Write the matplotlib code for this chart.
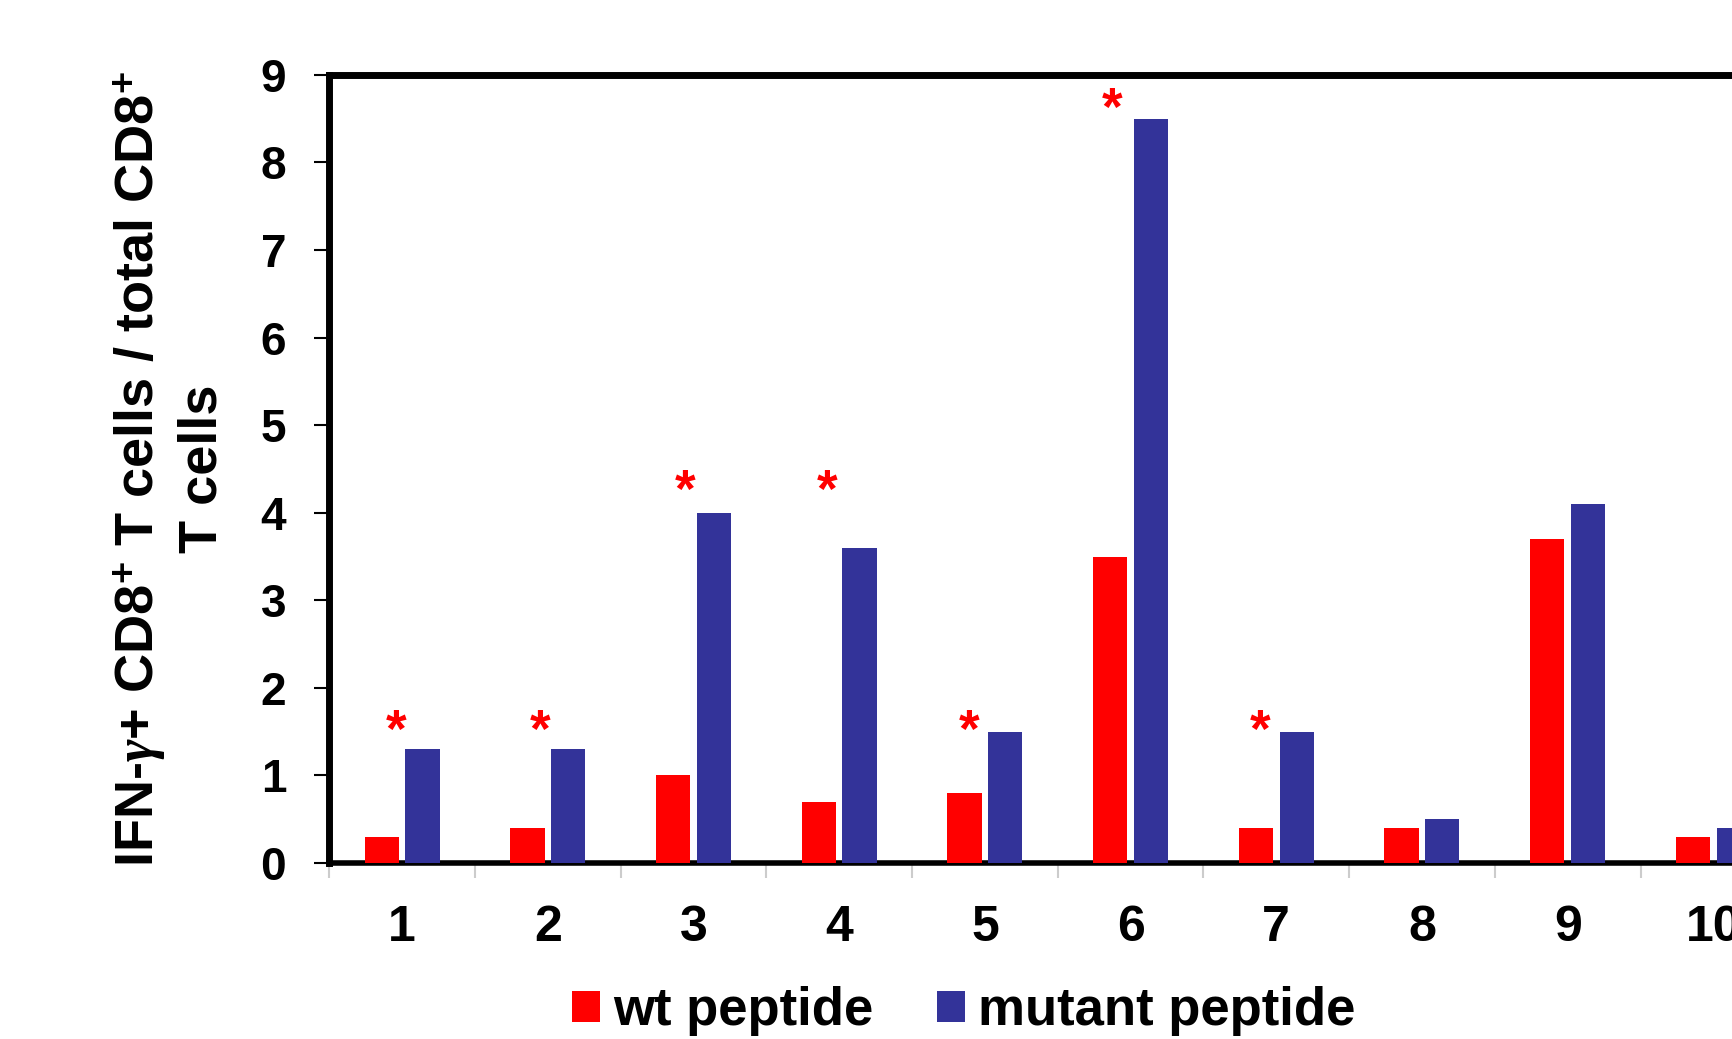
import matplotlib
matplotlib.use("Agg")
import matplotlib.pyplot as plt
import numpy as np

categories = ["1", "2", "3", "4", "5", "6", "7", "8", "9", "10"]
wt_values = [0.3, 0.4, 1.0, 0.7, 0.8, 3.5, 0.4, 0.4, 3.7, 0.3]
mutant_values = [1.3, 1.3, 4.0, 3.6, 1.5, 8.5, 1.5, 0.5, 4.1, 0.4]
series_names = ["wt peptide", "mutant peptide"]
y_ticks = [0, 1, 2, 3, 4, 5, 6, 7, 8, 9]
# significance asterisks: category position and height (centre of glyph)
star_x = [0.96, 1.95, 2.94, 3.92, 4.89, 5.87, 6.89]
star_y = [1.66, 1.66, 4.40, 4.40, 1.66, 8.76, 1.66]

RED = "#FF0000"
BLUE = "#333399"

plt.rcParams["font.family"] = ["Liberation Sans", "DejaVu Sans"]
plt.rcParams["font.weight"] = "bold"
plt.rcParams["mathtext.fontset"] = "custom"
plt.rcParams["mathtext.rm"] = "Liberation Sans:bold"
plt.rcParams["mathtext.bf"] = "Liberation Sans:bold"
plt.rcParams["mathtext.it"] = "Liberation Serif:italic"

fig = plt.figure(figsize=(17.33, 10.39), dpi=100)
ax = fig.add_axes([0.19, 0.1694, 0.8407, 0.7585])

x = np.arange(1, len(categories) + 1)
w = 0.235
off = 0.14
ax.bar(x - off, wt_values, width=w, color=RED, label=series_names[0], zorder=3)
ax.bar(x + off, mutant_values, width=w, color=BLUE, label=series_names[1], zorder=3)

for sx, sy in zip(star_x, star_y):
    ax.text(sx, sy - 0.33, "*", color=RED, fontsize=38, fontweight="bold",
            ha="center", va="baseline", zorder=4)

ax.set_xlim(0.5, len(categories) + 0.5)
ax.set_ylim(0, 9)
ax.set_yticks(y_ticks)
ax.set_yticklabels([str(t) for t in y_ticks], fontsize=33, fontweight="bold")
ax.set_xticks(x)
ax.set_xticklabels(categories, fontsize=36, fontweight="bold")
ax.set_xticks(np.arange(0.5, len(categories) + 1.5, 1), minor=True)
ax.tick_params(axis="x", which="major", length=0, pad=30)
ax.tick_params(axis="x", which="minor", length=11, width=1.5, color="#cccccc", direction="out")
ax.tick_params(axis="y", which="major", length=11, width=1.5, color="black", direction="out", pad=20)

ax.spines["left"].set_linewidth(5)
ax.spines["top"].set_linewidth(5)
ax.spines["bottom"].set_linewidth(4)
ax.spines["right"].set_linewidth(5)
for s in ax.spines.values():
    s.set_color("black")

ax.set_ylabel("IFN-$\\gamma$+ CD8$^{+}$ T cells / total CD8$^{+}$\nT cells",
              fontsize=39, fontweight="bold", labelpad=20, linespacing=1.2)
ax.yaxis.set_label_coords(-0.07, 0.5)

leg = fig.legend(loc="center", bbox_to_anchor=(0.556, 0.027), ncol=2, frameon=False,
                 prop={"size": 38, "weight": "bold"}, handlelength=0.53, handleheight=0.53,
                 handletextpad=0.25, columnspacing=1.2)

fig.savefig("out.png", dpi=100)
